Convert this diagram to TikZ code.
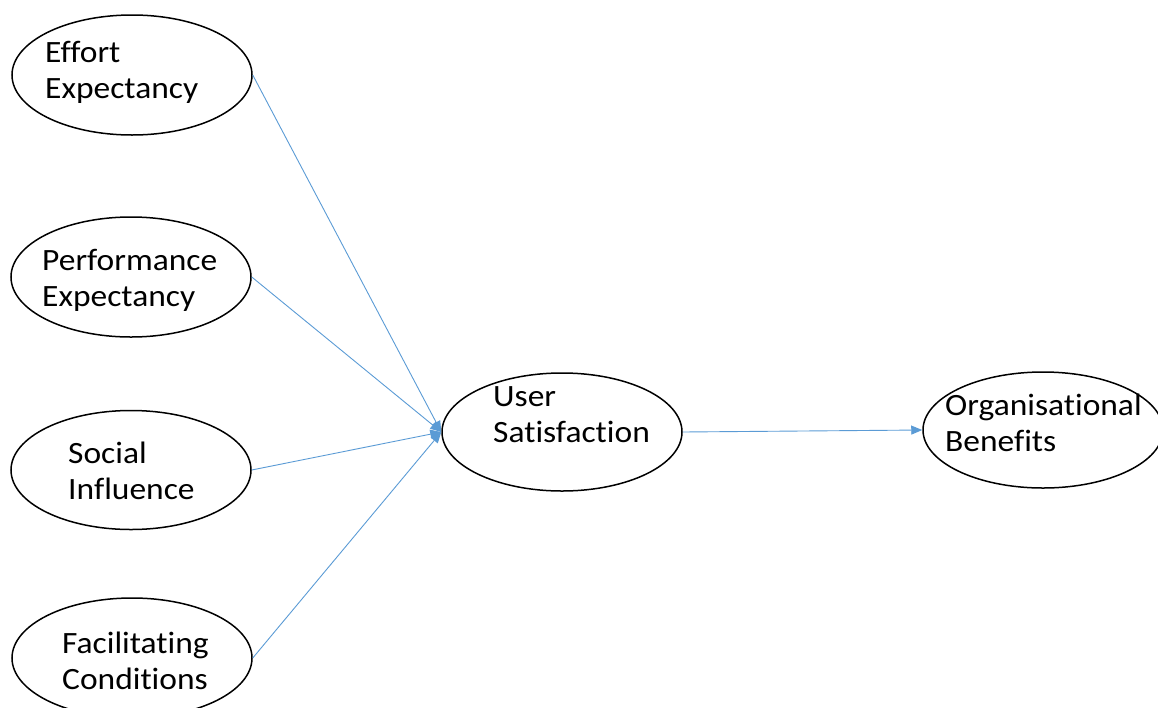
\documentclass[tikz,border=0pt]{standalone}
\usepackage{fontspec}
\setmainfont[FakeStretch=1.08,Ligatures=NoCommon]{Carlito}
\usetikzlibrary{shapes.geometric,arrows.meta}
\definecolor{linkblue}{RGB}{91,155,213}
\tikzset{
  construct/.style={ellipse, draw=black, line width=1.5pt, minimum width=240pt, minimum height=120pt, inner sep=0pt},
  label/.style={anchor=base west, inner sep=0pt, font=\fontsize{31}{36}\selectfont},
  link/.style={draw=linkblue, line width=0.9pt, -{Triangle[length=11pt,width=9pt]}}
}
\newcommand{\twolines}[2]{\begin{tabular}[t]{@{}l@{}}#1\\#2\end{tabular}}
\begin{document}
\begin{tikzpicture}[x=1pt,y=-1pt]
\useasboundingbox (0,0) rectangle (1158,707);
\node[construct] (ee) at (132,75) {};
\node[construct] (pe) at (131,277) {};
\node[construct, minimum height=119pt] (si) at (131,470) {};
\node[construct] (fc) at (132,658) {};
\node[construct, minimum height=118pt] (us) at (562,432) {};
\node[construct, minimum height=116pt] (ob) at (1043,430) {};

\node[label] (eet) at (45,62) {\twolines{Effort}{Expectancy}};
\node[label] (pet) at (42,270) {\twolines{Performance}{Expectancy}};
\node[label] (sit) at (68,463) {\twolines{Social}{Influence}};
\node[label] (fct) at (62,653) {\twolines{Facilitating}{Conditions}};
\node[label] (ust) at (493,406) {\twolines{User}{Satisfaction}};
\node[label] (obt) at (945,415) {\twolines{Organisational}{Benefits}};

\draw[link] (ee.east) -- (us.west);
\draw[link] (pe.east) -- (us.west);
\draw[link] (si.east) -- (us.west);
\draw[link] (fc.east) -- (us.west);
\draw[link] (us.east) -- (ob.west);
\end{tikzpicture}
\end{document}
